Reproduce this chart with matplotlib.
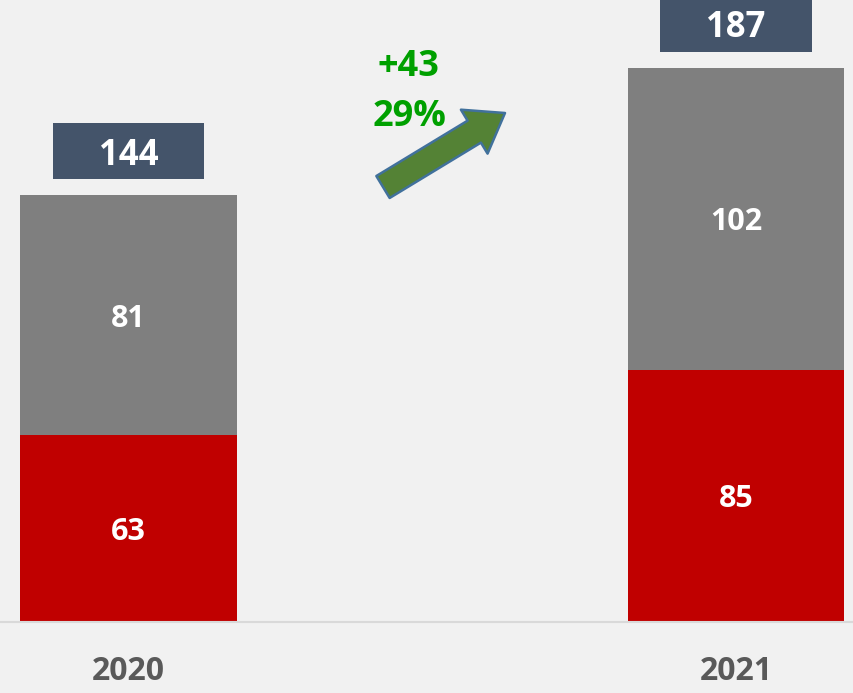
import matplotlib.pyplot as plt
from matplotlib.patches import Rectangle, FancyArrowPatch

years = ['2020', '2021']
red_values = [63, 85]
gray_values = [81, 102]

RED = '#c00000'
GRAY = '#7f7f7f'
BOX = '#44546a'
GREEN_TXT = '#00a000'

plt.rcParams['font.family'] = ['Open Sans', 'DejaVu Sans']
plt.rcParams['font.weight'] = 'bold'

fig = plt.figure(figsize=(8.54, 6.93), dpi=100)
fig.patch.set_facecolor('#f1f1f1')
ax = fig.add_axes([0, 0.1025, 1, 0.8975])
ax.set_facecolor('none')

x = list(range(len(years)))
totals = [r + g for r, g in zip(red_values, gray_values)]
width = 0.357

ax.bar(x, red_values, width=width, color=RED, zorder=2)
ax.bar(x, gray_values, width=width, bottom=red_values, color=GRAY, zorder=2)

for xi, r, g, t in zip(x, red_values, gray_values, totals):
    ax.text(xi, r / 2, str(r), ha='center', va='center_baseline', color='white',
            fontsize=22, fontweight='bold', zorder=3)
    ax.text(xi, r + g / 2, str(g), ha='center', va='center_baseline', color='white',
            fontsize=22, fontweight='bold', zorder=3)
    # total label box above the bar
    y0 = t + 5.3
    h = 19.0
    ax.add_patch(Rectangle((xi - 0.125, y0), 0.25, h, facecolor=BOX,
                           edgecolor='none', zorder=3, clip_on=False))
    ax.text(xi, y0 + h / 2, str(t), ha='center', va='center_baseline', color='white',
            fontsize=25, fontweight='bold', zorder=4)

ax.set_xlim(-0.2115, 1.1942)
ax.set_ylim(0, 209.8)
ax.set_xticks(x)
ax.set_xticklabels(years, fontsize=23, fontweight='bold', color='#595959')
ax.tick_params(axis='x', length=0, pad=24)
ax.set_yticks([])
for side in ['top', 'right', 'left']:
    ax.spines[side].set_visible(False)
ax.spines['bottom'].set_color('#d9d9d9')
ax.spines['bottom'].set_linewidth(1.5)

# growth annotation
diff = totals[1] - totals[0]
pct = int(100 * diff / totals[0])
fig.text(408 / 854, 1 - 62 / 693, f'+{diff}', ha='center', va='center_baseline',
         color=GREEN_TXT, fontsize=26, fontweight='bold')
fig.text(410 / 854, 1 - 112 / 693, f'{pct}%', ha='center', va='center_baseline',
         color=GREEN_TXT, fontsize=26, fontweight='bold')

arrow = FancyArrowPatch((383, 693 - 187), (505, 693 - 113),
                        transform=None,
                        arrowstyle='Simple,tail_width=1,head_width=2.0,head_length=1.4',
                        mutation_scale=18.5, shrinkA=0, shrinkB=0,
                        facecolor='#548235', edgecolor='#41719c', linewidth=1.8)
fig.patches.append(arrow)

fig.savefig('out.png', dpi=100, facecolor=fig.get_facecolor())
